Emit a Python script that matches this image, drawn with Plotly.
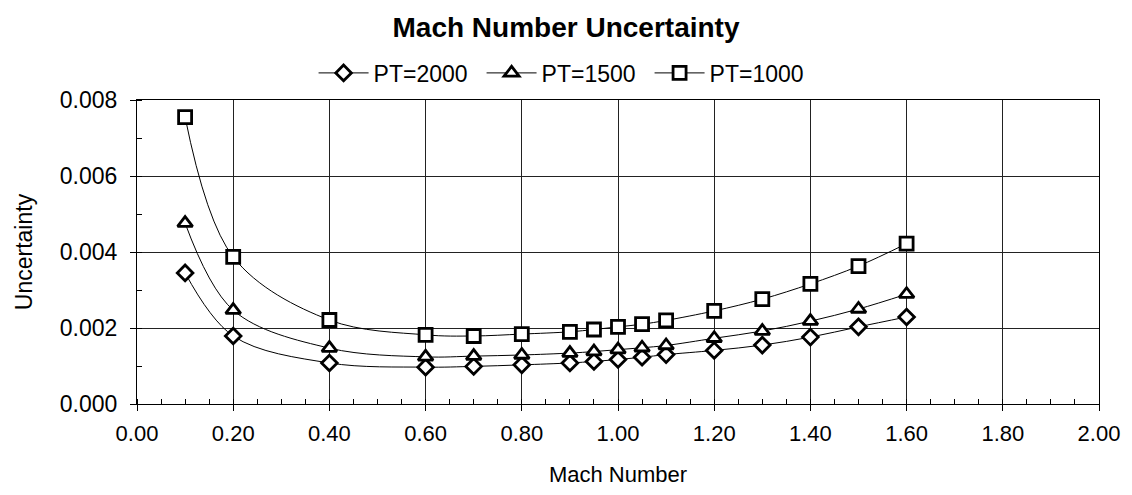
import plotly.graph_objects as go

mach = [0.1, 0.2, 0.4, 0.6, 0.7, 0.8, 0.9, 0.95, 1.0, 1.05, 1.1, 1.2, 1.3, 1.4, 1.5, 1.6]
pt2000 = [0.00345, 0.00179, 0.00108, 0.00097, 0.00099, 0.00103, 0.00108, 0.00112, 0.00117,
          0.00123, 0.00130, 0.00141, 0.00155, 0.00176, 0.00203, 0.00229]
pt1500 = [0.00476, 0.00247, 0.00147, 0.00124, 0.00126, 0.00129, 0.00134, 0.00138, 0.00143,
          0.00148, 0.00154, 0.00173, 0.00192, 0.00218, 0.00250, 0.00289]
pt1000 = [0.00755, 0.00387, 0.00221, 0.00182, 0.00179, 0.00184, 0.00190, 0.00196, 0.00203,
          0.00210, 0.00220, 0.00245, 0.00276, 0.00316, 0.00363, 0.00422]

series = [
    ("PT=2000", pt2000, "diamond", 12),
    ("PT=1500", pt1500, "triangle-up", 13),
    ("PT=1000", pt1000, "square", 13),
]

fig = go.Figure()
for name, vals, sym, sz in series:
    fig.add_trace(go.Scatter(
        x=mach, y=vals, name=name, mode="lines+markers",
        line=dict(color="black", width=1, shape="spline", smoothing=1.0),
        marker=dict(symbol=sym, size=sz, color="white",
                    line=dict(color="black", width=2.8)),
    ))

font = "Liberation Sans, Arial, sans-serif"
W, H = 1116, 479  # page body has an 8px margin
fig.update_layout(
    width=W, height=H,
    margin=dict(l=129, r=25, t=92, b=83, autoexpand=False),
    paper_bgcolor="white", plot_bgcolor="white",
    font=dict(family=font, size=22, color="black"),
    title=dict(text="<b>Mach Number Uncertainty</b>", x=0.5, xref="container",
               y=1 - 19 / H, yref="container", yanchor="middle",
               font=dict(size=28, family=font)),
    legend=dict(orientation="h", x=0.4455, xanchor="center",
                y=1.089, yanchor="middle", font=dict(size=23),
                itemwidth=50, tracegroupgap=0, entrywidth=103),
    showlegend=True,
)
fig.update_xaxes(
    range=[0, 2.0], tickvals=[0, 0.2, 0.4, 0.6, 0.8, 1.0, 1.2, 1.4, 1.6, 1.8, 2.0],
    tickformat=".2f", tickangle=0, tickfont=dict(size=22),
    showgrid=True, gridcolor="#222", gridwidth=1,
    showline=True, linecolor="black", linewidth=1, mirror=True,
    ticks="outside", ticklen=6, tickcolor="black", ticklabelstandoff=4,
    minor=dict(dtick=0.05, ticks="inside", ticklen=5, tickcolor="black", showgrid=False),
    zeroline=False, automargin=False,
    title=dict(text="Mach Number", standoff=21, font=dict(size=22)),
)
fig.update_yaxes(
    range=[0, 0.008], dtick=0.002, tickformat=".3f", tickfont=dict(size=23),
    showgrid=True, gridcolor="#222", gridwidth=1,
    showline=True, linecolor="black", linewidth=1, mirror=True,
    ticks="outside", ticklen=6, tickcolor="black", ticklabelstandoff=8,
    minor=dict(dtick=0.001, ticks="inside", ticklen=5, tickcolor="black", showgrid=False),
    zeroline=False, automargin=False,
    title=dict(text="Uncertainty", standoff=20, font=dict(size=23)),
)
fig.write_html("out.html")
